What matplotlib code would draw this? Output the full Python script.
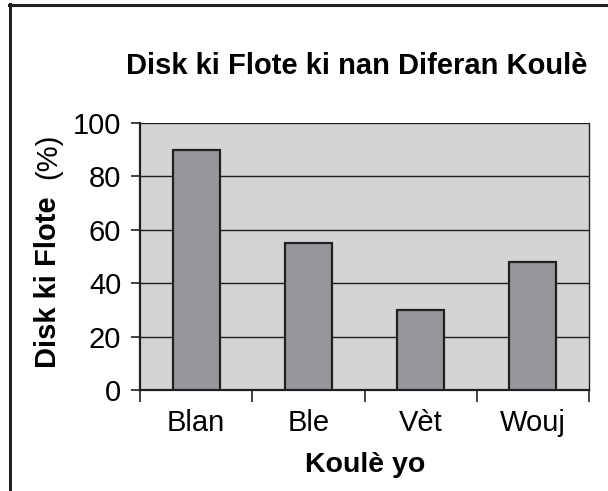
import matplotlib.pyplot as plt
from matplotlib.lines import Line2D

# ===== data =====
categories = ["Blan", "Ble", "Vèt", "Wouj"]
percent_floated = [90, 55, 30, 48]
y_ticks = [0, 20, 40, 60, 80, 100]

plt.rcParams['font.family'] = ['Liberation Sans', 'DejaVu Sans']

fig = plt.figure(figsize=(6.08, 4.91), dpi=100)
fig.patch.set_facecolor("white")

ax = fig.add_axes([140/608, 1 - 390/491, 449/608, 267/491])
ax.set_facecolor("#d3d4d6")

x = list(range(len(categories)))
ax.bar(x, percent_floated, width=0.42, color="#96979b",
       edgecolor="#231f20", linewidth=1.6, zorder=3)

ax.set_ylim(0, 100)
ax.set_xlim(-0.5, len(categories) - 0.5)
ax.set_yticks(y_ticks)
ax.yaxis.grid(True, color="#231f20", linewidth=1.0, zorder=1)
ax.set_axisbelow(True)

# ticks on category boundaries, labels at centres
ax.set_xticks([i - 0.5 for i in range(len(categories) + 1)])
ax.set_xticklabels([])
ax.set_xticks(x, minor=True)
ax.set_xticklabels(categories, minor=True, fontsize=21)
ax.tick_params(axis="x", which="major", direction="out", length=8.5, width=1.2, color="#231f20")
ax.tick_params(axis="x", which="minor", length=0, pad=14)
ax.tick_params(axis="y", direction="out", length=6.5, width=1.2, color="#231f20",
               labelsize=21, pad=7)

for s in ["left", "bottom"]:
    ax.spines[s].set_linewidth(1.6)
    ax.spines[s].set_color("#231f20")
ax.spines["right"].set_linewidth(1.0)
ax.spines["right"].set_color("#231f20")
ax.spines["top"].set_visible(False)

fig.text(357/608, 1 - 74/491, "Disk ki Flote ki nan Diferan Koulè",
         ha="center", va="baseline", fontsize=21, fontweight="bold")
fig.text(48/608, 1 - 282/491, "Disk ki Flote", rotation=90,
         ha="center", va="center", fontsize=21, fontweight="bold")
fig.text(48/608, 1 - 156/491, "(%)", rotation=90,
         ha="center", va="center", fontsize=21)
fig.text(365/608, 1 - 465/491, "Koulè yo",
         ha="center", va="center", fontsize=20.5, fontweight="bold")

# outer frame (left and top edges visible)
fig.add_artist(Line2D([10/608, 10/608], [0, 1 - 4/491], transform=fig.transFigure,
                      color="#231f20", linewidth=2.2))
fig.add_artist(Line2D([9/608, 1], [1 - 5/491, 1 - 5/491], transform=fig.transFigure,
                      color="#231f20", linewidth=2.2))

fig.savefig("out.png", dpi=100)
